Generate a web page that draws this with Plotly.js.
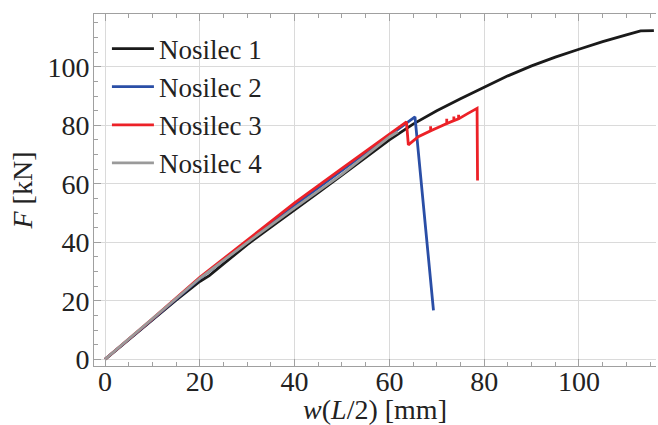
<!DOCTYPE html>
<html>
<head>
<meta charset="utf-8">
<script src="https://cdn.plot.ly/plotly-3.0.1.min.js"></script>
<style>html,body{margin:0;padding:0;background:#fff;}#chart{width:658px;height:425px;}</style>
</head>
<body>
<div id="chart"></div>
<script>
// Nosilec 1 (black)
const w1 = [0, 5, 10, 15, 20, 22, 25, 30, 35, 40, 45, 50, 55, 60, 65, 70, 75, 80, 85, 90, 95, 100, 105, 110, 113, 115.8];
const F1 = [0, 6.8, 13.6, 20.2, 26.6, 28.6, 32.6, 39.2, 45.2, 51.0, 57.0, 63.0, 69.0, 75.0, 80.4, 85.0, 89.1, 93.0, 96.9, 100.3, 103.3, 106.0, 108.6, 110.9, 112.3, 112.4];
// Nosilec 2 (blue)
const w2 = [0, 10, 20, 30, 40, 50, 60, 62.2, 64, 65.4, 69.3];
const F2 = [0, 13.6, 27.6, 40.2, 52.6, 64.6, 76.6, 79.0, 81.2, 82.9, 16.7];
// Nosilec 3 (red)
const w3 = [0, 10, 20, 30, 40, 50, 55, 60, 63.6, 64.0, 66.1, 68.7, 68.7, 68.7, 70.5, 72.1, 72.1, 72.1, 73.6, 73.6, 73.6, 74.6, 74.6, 74.6, 76.5, 78.5, 78.6];
const F3 = [0, 13.8, 28.0, 40.6, 53.5, 65.3, 71.2, 77.0, 81.2, 73.3, 76.1, 78.1, 79.7, 78.1, 79.4, 80.6, 82.2, 80.6, 81.6, 83.0, 81.6, 82.2, 83.6, 82.2, 84.0, 85.8, 61.1];
// Nosilec 4 (gray)
const w4 = [0, 10, 20, 30, 40, 50, 60, 61.8];
const F4 = [0, 13.7, 27.7, 39.9, 51.8, 63.3, 76.0, 77.8];

const names = ["Nosilec 1", "Nosilec 2", "Nosilec 3", "Nosilec 4"];
const colors = ["#1a1a1a", "#2a4ea6", "#ec2127", "#9a9a9a"];

const xs = [w1, w2, w3, w4];
const ys = [F1, F2, F3, F4];
const traces = xs.map((x, i) => ({
  x: x, y: ys[i], type: 'scatter', mode: 'lines', name: names[i],
  line: {color: colors[i], width: 2.8}
}));

const font = {family: 'Liberation Serif, Times New Roman, serif', size: 28, color: '#222'};
const legendFont = {family: 'Liberation Serif, Times New Roman, serif', size: 27, color: '#222'};
const axisCommon = {
  showgrid: true, gridcolor: '#dadada', gridwidth: 1,
  zeroline: false, showline: true, linecolor: '#a0a0a0', linewidth: 1,
  ticks: 'inside', ticklen: 7, tickcolor: '#a0a0a0', tickwidth: 1,
  minor: {dtick: 5, ticks: 'inside', ticklen: 4, tickcolor: '#a0a0a0', showgrid: false},
  tickfont: font, automargin: false
};

const layout = {
  width: 658, height: 425,
  margin: {l: 94, r: 2, t: 14, b: 59},
  paper_bgcolor: '#fff', plot_bgcolor: '#fff',
  font: font,
  showlegend: true,
  legend: {x: 0.023, y: 0.97, xanchor: 'left', yanchor: 'top', bgcolor: 'rgba(255,255,255,0)',
           font: legendFont, itemwidth: 42, tracegroupgap: 0},
  xaxis: Object.assign({}, axisCommon, {
    range: [-2.32, 116.25], dtick: 20, tick0: 0, mirror: 'ticks', ticklabelstandoff: -10,
    title: {text: '<i>w</i>(<i>L</i>/2) [mm]', font: font, standoff: 12}
  }),
  yaxis: Object.assign({}, axisCommon, {
    range: [-2.29, 118.05], dtick: 20, tick0: 0, ticklabelstandoff: -2,
    title: {text: '<i>F</i> [kN]', font: font, standoff: 6}
  })
};
layout.xaxis.automargin = 'title';

Plotly.newPlot('chart', traces, layout, {displayModeBar: false, staticPlot: true});
</script>
</body>
</html>
